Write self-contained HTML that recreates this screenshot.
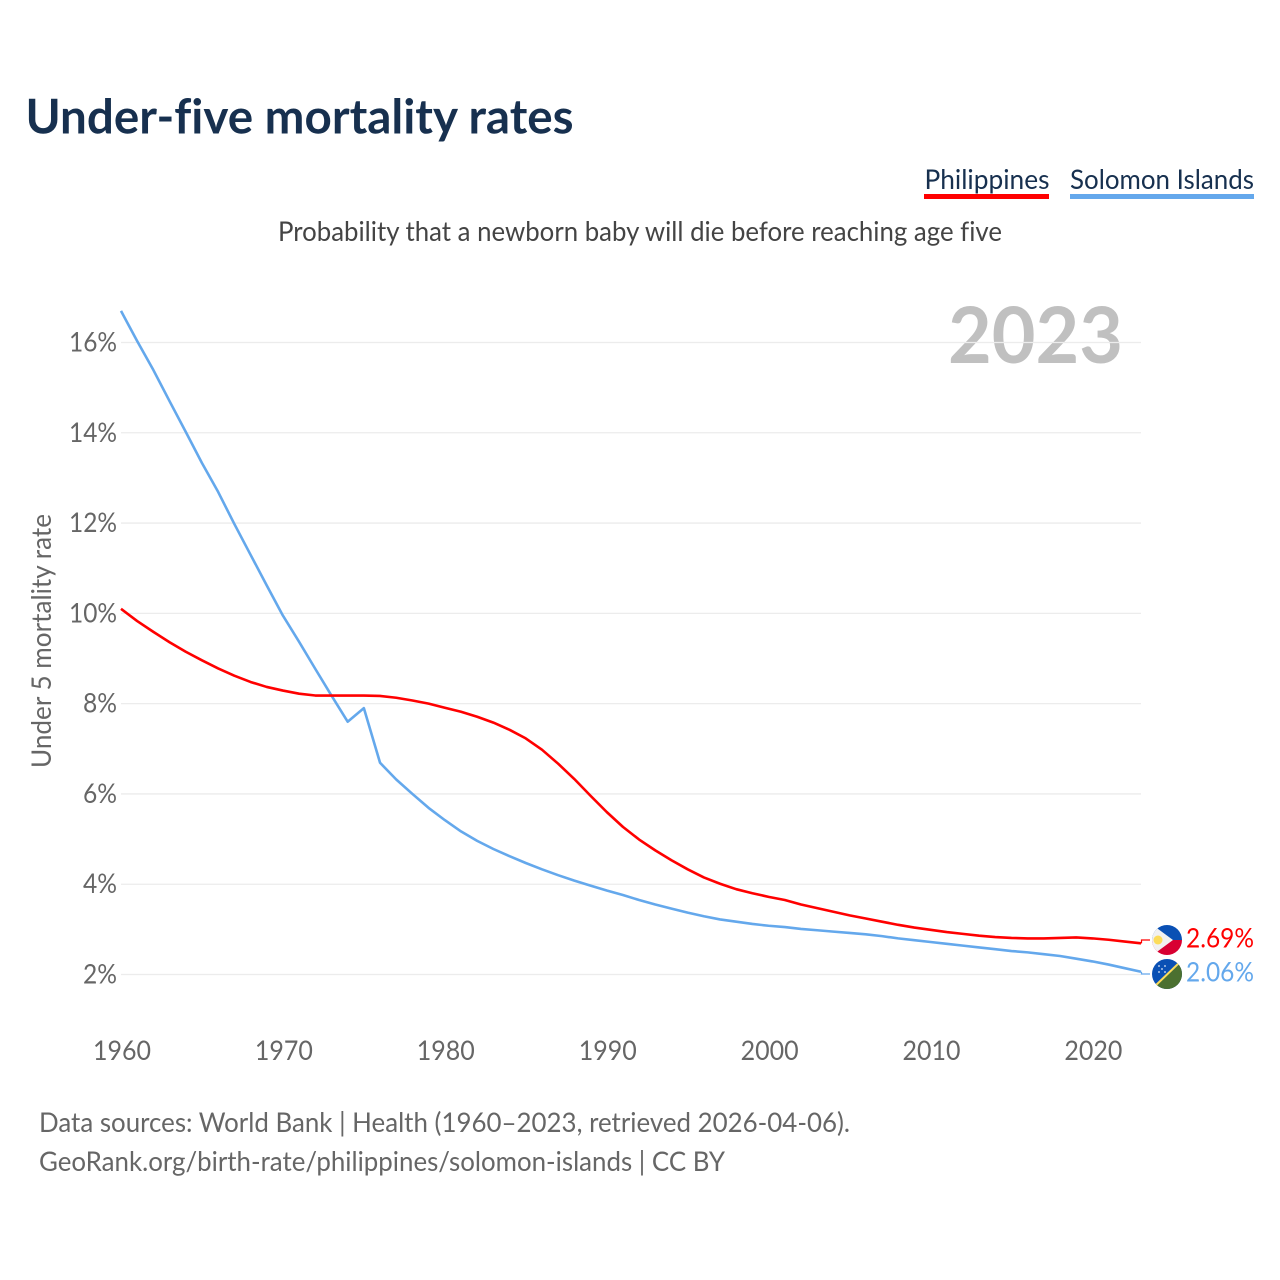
<!DOCTYPE html>
<html lang="en">
<head>
<meta charset="utf-8">
<title>Under-five mortality rates</title>
<style>
html,body{margin:0;padding:0;background:#fff;}
svg{display:block;font-family:"Lato","Carlito","Liberation Sans",sans-serif;font-variant-ligatures:none;}
</style>
</head>
<body>
<svg id="chart" xmlns="http://www.w3.org/2000/svg" width="1280" height="1280" viewBox="0 0 1280 1280">
  <rect width="1280" height="1280" fill="#fff"/>
  <text x="25.5" y="133.5" font-size="48" font-weight="700" fill="#17304f" textLength="548" lengthAdjust="spacingAndGlyphs">Under-five mortality rates</text>
  <g>
    <text x="924.5" y="189" font-size="27" fill="#17304f" textLength="125" lengthAdjust="spacingAndGlyphs">Philippines</text>
    <rect x="924" y="194" width="125" height="5" fill="#ff0000"/>
  </g>
  <g>
    <text x="1070" y="189" font-size="27" fill="#17304f" textLength="184" lengthAdjust="spacingAndGlyphs">Solomon Islands</text>
    <rect x="1070" y="194" width="184" height="5" fill="#64a8ec"/>
  </g>
  <text x="278" y="241" font-size="27" fill="#444" textLength="724" lengthAdjust="spacingAndGlyphs">Probability that a newborn baby will die before reaching age five</text>
  <text x="948" y="363" font-size="78" font-weight="700" fill="#c0c0c0" textLength="175" lengthAdjust="spacingAndGlyphs">2023</text>
  <text transform="translate(51,768) rotate(-90)" font-size="27" fill="#666" textLength="254" lengthAdjust="spacingAndGlyphs">Under 5 mortality rate</text>
  <g id="grid"></g>
  <g id="yticks"></g>
  <g id="xticks"></g>
  <g id="series"></g>
  <g>
    <clipPath id="clipPH"><circle cx="1167" cy="940" r="15"/></clipPath>
    <g clip-path="url(#clipPH)">
      <rect x="1152" y="925" width="30" height="15" fill="#0a50b4"/>
      <rect x="1152" y="940" width="30" height="15" fill="#d80032"/>
      <polygon points="1150,923 1173,940 1150,957" fill="#f1f1f1"/>
      <circle cx="1158" cy="940" r="4.5" fill="#fcdc5a"/>
    </g>
  </g>
  <g>
    <clipPath id="clipSB"><circle cx="1167" cy="974" r="15"/></clipPath>
    <g clip-path="url(#clipSB)">
      <rect x="1152" y="959" width="30" height="30" fill="#0a50b4"/>
      <polygon points="1182,962 1182,989 1152,989" fill="#4b7030"/>
      <line x1="1154" y1="987" x2="1180" y2="962" stroke="#fcdc5a" stroke-width="2"/>
      <g fill="#dfe8f5">
        <circle cx="1159" cy="966" r="0.9"/><circle cx="1165" cy="966" r="0.9"/>
        <circle cx="1162" cy="969" r="0.9"/><circle cx="1159" cy="972" r="0.9"/><circle cx="1165" cy="972" r="0.9"/>
      </g>
    </g>
  </g>
  <text x="1186" y="947.5" font-size="27" fill="#ff0000" textLength="68" lengthAdjust="spacingAndGlyphs">2.69%</text>
  <text x="1186" y="981.5" font-size="27" fill="#64a8ec" textLength="68" lengthAdjust="spacingAndGlyphs">2.06%</text>
  <text x="39" y="1132" font-size="27" fill="#666" textLength="811" lengthAdjust="spacingAndGlyphs">Data sources: World Bank | Health (1960–2023, retrieved 2026-04-06).</text>
  <text x="39" y="1171" font-size="27" fill="#666" textLength="686" lengthAdjust="spacingAndGlyphs">GeoRank.org/birth-rate/philippines/solomon-islands | CC BY</text>
</svg>
<script>
const startYear = 1960;
const philippines = [
  10.1,9.83,9.59,9.36,9.15,8.96,8.78,8.62,8.48,8.37,
  8.29,8.22,8.18,8.18,8.18,8.18,8.17,8.13,8.07,8.0,
  7.91,7.82,7.71,7.58,7.42,7.23,6.98,6.67,6.33,5.96,
  5.6,5.27,4.99,4.75,4.53,4.33,4.15,4.01,3.89,3.8,
  3.72,3.65,3.55,3.47,3.39,3.31,3.24,3.17,3.1,3.04,
  2.99,2.94,2.9,2.86,2.83,2.81,2.8,2.8,2.81,2.82,
  2.8,2.77,2.73,2.69];
const solomonIslands = [
  16.7,16.03,15.39,14.7,14.02,13.33,12.69,11.98,11.3,10.62,
  9.95,9.37,8.77,8.18,7.6,7.9,6.69,6.32,6.0,5.69,
  5.42,5.17,4.96,4.78,4.62,4.47,4.33,4.2,4.08,3.97,
  3.86,3.76,3.65,3.55,3.46,3.37,3.29,3.22,3.17,3.12,
  3.08,3.05,3.01,2.98,2.95,2.92,2.89,2.85,2.8,2.76,
  2.72,2.68,2.64,2.6,2.56,2.52,2.49,2.45,2.41,2.35,
  2.29,2.22,2.14,2.06];
const yTicks = [2,4,6,8,10,12,14,16];
const yTickLabels = ["2%","4%","6%","8%","10%","12%","14%","16%"];
const xTicks = [1960,1970,1980,1990,2000,2010,2020];

const NS = "http://www.w3.org/2000/svg";
function xScale(year){ return 121 + (year - 1960) * (1141 - 121) / 63; }
function yScale(v){ return 974.5 - (v - 2) * (974.5 - 342.5) / 14; }
function make(tag, attrs, parent){
  const el = document.createElementNS(NS, tag);
  for (const k in attrs) el.setAttribute(k, attrs[k]);
  parent.appendChild(el);
  return el;
}
const grid = document.getElementById("grid");
const yt = document.getElementById("yticks");
const xt = document.getElementById("xticks");
const series = document.getElementById("series");

yTicks.forEach(function(v, i){
  const ln = make("line", {x1:121, x2:1141, y1:yScale(v), y2:yScale(v), stroke:"#ececec", "stroke-width":1.3}, grid);
  
  
  const label = yTickLabels[i];
  const t = make("text", {x:117, y:yScale(v)+9, "text-anchor":"end", "font-size":27, fill:"#666", textLength:label.length*14+6, lengthAdjust:"spacingAndGlyphs"}, yt);
  
  
  t.textContent = label;
});
xTicks.forEach(function(y){
  const t = make("text", {x:xScale(y)+1, y:1060, "text-anchor":"middle", "font-size":27, fill:"#666", textLength:58, lengthAdjust:"spacingAndGlyphs"}, xt);
  
  
  t.textContent = String(y);
});
function pathFor(values){
  return values.map(function(v, i){
    return (i ? "L" : "M") + xScale(startYear + i).toFixed(2) + " " + yScale(v).toFixed(2);
  }).join(" ");
}
const blue = make("path", {d:pathFor(solomonIslands), fill:"none", stroke:"#64a8ec", "stroke-width":2.6, "stroke-linejoin":"round"}, series);


const red = make("path", {d:pathFor(philippines), fill:"none", stroke:"#ff0000", "stroke-width":2.6, "stroke-linejoin":"round"}, series);


const redEnd = yScale(philippines[philippines.length-1]);
const blueEnd = yScale(solomonIslands[solomonIslands.length-1]);
const c1 = make("path", {d:"M1141.5 "+redEnd.toFixed(1)+" V940 H1150", fill:"none", stroke:"#ff0000", "stroke-width":1.2}, series);


const c2 = make("path", {d:"M1141.5 "+blueEnd.toFixed(1)+" V974 H1150", fill:"none", stroke:"#64a8ec", "stroke-width":1.2}, series);


</script>
</body>
</html>
